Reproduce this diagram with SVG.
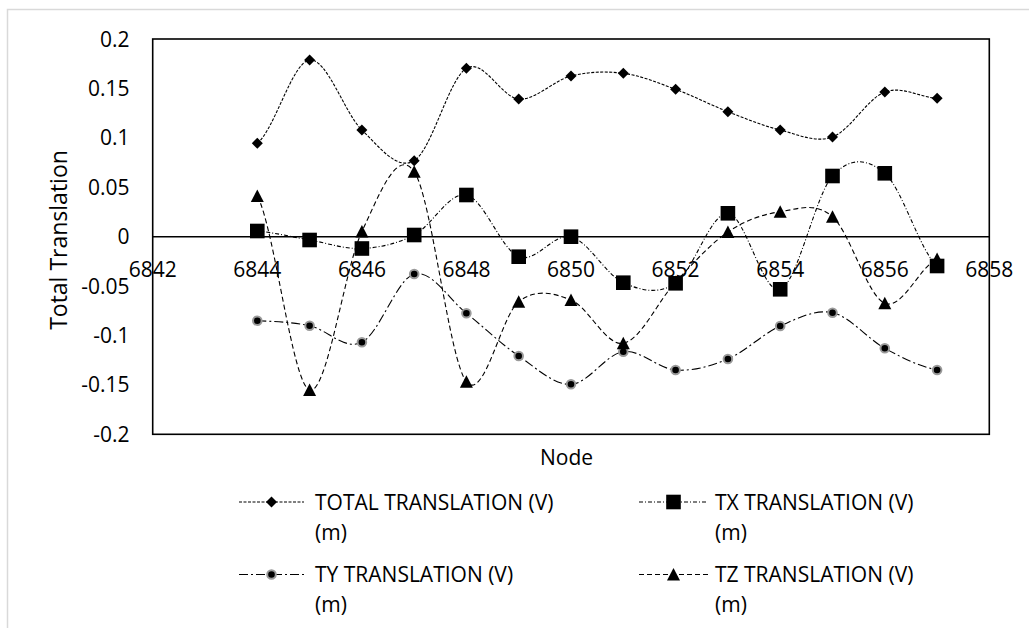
<svg xmlns="http://www.w3.org/2000/svg" width="1029" height="628" viewBox="0 0 1029 628">
<style>
text{font-family:"Open Sans","Liberation Sans",sans-serif;font-size:21px;fill:#000}
.s{fill:none;stroke:#000;stroke-width:1.1}
.tot{stroke-dasharray:3 1.5}
.tx{stroke-dasharray:4 2 1 2}
.ty{stroke-dasharray:9 3 2 3}
.tz{stroke-dasharray:5 3}
.yl{text-anchor:end}
.xl{text-anchor:middle}
</style>
<defs>
<polygon id="mD" points="0,-5.5 5.5,0 0,5.5 -5.5,0" fill="#000"/>
<rect id="mS" x="-7.3" y="-7.3" width="14.6" height="14.6" fill="#000"/>
<polygon id="mT" points="0,-6.5 6.5,6 -6.5,6" fill="#000"/>
<circle id="mC" r="4.3" fill="#000" stroke="#9a9a9a" stroke-width="2"/>
</defs>
<rect width="1029" height="628" fill="#fff"/>
<rect x="7.5" y="9.5" width="1040" height="640" fill="none" stroke="#d9d9d9" stroke-width="1.5"/>
<g id="axes">
<rect x="152.7" y="39" width="836.6" height="395.3" fill="none" stroke="#000" stroke-width="1.6"/>
<line x1="152.7" y1="236.7" x2="989.3" y2="236.7" stroke="#000" stroke-width="1.6"/>
<g id="ylabels" class="yl">
<text class="yl" x="129.5" y="46.5">0.2</text>
<text class="yl" x="129.5" y="95.9">0.15</text>
<text class="yl" x="129.5" y="145.3">0.1</text>
<text class="yl" x="129.5" y="194.8">0.05</text>
<text class="yl" x="129.5" y="244.2">0</text>
<text class="yl" x="129.5" y="293.6">-0.05</text>
<text class="yl" x="129.5" y="343">-0.1</text>
<text class="yl" x="129.5" y="392.4">-0.15</text>
<text class="yl" x="129.5" y="441.8">-0.2</text>
</g>
<g id="xlabels">
<text class="xl" x="152.7" y="277">6842</text>
<text class="xl" x="257.3" y="277">6844</text>
<text class="xl" x="361.9" y="277">6846</text>
<text class="xl" x="466.4" y="277">6848</text>
<text class="xl" x="571" y="277">6850</text>
<text class="xl" x="675.6" y="277">6852</text>
<text class="xl" x="780.2" y="277">6854</text>
<text class="xl" x="884.8" y="277">6856</text>
<text class="xl" x="989.3" y="277">6858</text>
</g>
<text class="xl" style="font-size:23px" transform="translate(66.5,240) rotate(-90)">Total Translation</text>
<text class="xl" x="566.5" y="465">Node</text>
</g>
<g id="connectors">
<path id="line-total" class="s tot" d="M257.3,143.3 C274.7,129.4 292.2,62.2 309.6,60 C327,57.8 344.5,113.2 361.9,130 C379.3,146.8 396.8,171 414.2,160.7 C431.6,150.4 449,78.6 466.4,68.3 C483.8,58 501.3,97.7 518.7,99 C536.1,100.3 553.6,80.3 571,76 C588.4,71.7 605.9,71.1 623.3,73.3 C640.7,75.5 658.2,82.9 675.6,89.3 C693,95.7 710.5,104.9 727.9,111.7 C745.3,118.5 762.8,125.8 780.2,130 C797.6,134.2 815.1,143.3 832.5,137 C849.9,130.7 867.4,98.5 884.8,92 C902.2,85.6 919.7,97.3 937.1,98.3"/>
<path id="line-tx" class="s tx" d="M257.3,231 C274.7,232.5 292.2,237.1 309.6,240 C327,242.9 344.5,249.3 361.9,248.5 C379.3,247.7 396.8,243.9 414.2,235 C431.6,226.1 449,191.4 466.4,195 C483.8,198.6 501.3,249.8 518.7,256.7 C536.1,263.7 553.6,232.4 571,236.7 C588.4,241 605.9,274.9 623.3,282.7 C640.7,290.5 658.2,294.9 675.6,283.3 C693,271.7 710.5,212.3 727.9,213.3 C745.3,214.3 762.8,295.5 780.2,289.3 C797.6,283.1 815.1,195.3 832.5,176 C849.9,156.7 867.4,158.3 884.8,173.3 C902.2,188.3 919.7,250.6 937.1,266"/>
<path id="line-ty" class="s ty" d="M257.3,320.7 C274.7,321.5 292.2,322.1 309.6,325.7 C327,329.3 344.5,350.9 361.9,342.3 C379.3,333.7 396.8,278.8 414.2,274 C431.6,269.2 449,299.6 466.4,313.3 C483.8,327 501.3,344.2 518.7,356 C536.1,367.8 553.6,385 571,384.3 C588.4,383.6 605.9,354.1 623.3,351.7 C640.7,349.3 658.2,368.8 675.6,370 C693,371.2 710.5,366.3 727.9,359 C745.3,351.7 762.8,333.7 780.2,326 C797.6,318.3 815.1,309 832.5,312.7 C849.9,316.4 867.4,338.8 884.8,348.3 C902.2,357.9 919.7,366.4 937.1,370"/>
<path id="line-tz" class="s tz" d="M257.3,196 C274.7,228.3 292.2,384.1 309.6,390 C327,395.9 344.5,267.9 361.9,231.5 C379.3,195.1 396.8,146.7 414.2,171.7 C431.6,196.7 449,360 466.4,381.7 C483.8,403.4 501.3,315.3 518.7,301.7 C536.1,288.1 553.6,293.1 571,300 C588.4,306.9 605.9,346.3 623.3,343.3 C640.7,340.3 658.2,300.6 675.6,282 C693,263.5 710.5,243.7 727.9,232 C745.3,220.3 762.8,214.3 780.2,211.7 C797.6,209.2 815.1,201.4 832.5,216.7 C849.9,232 867.4,296.3 884.8,303.3 C902.2,310.4 919.7,266.4 937.1,259"/>
</g>
<g id="series-total">
<use href="#mD" x="257.3" y="143.3"/><use href="#mD" x="309.6" y="60"/><use href="#mD" x="361.9" y="130"/><use href="#mD" x="414.2" y="160.7"/><use href="#mD" x="466.4" y="68.3"/><use href="#mD" x="518.7" y="99"/><use href="#mD" x="571" y="76"/><use href="#mD" x="623.3" y="73.3"/><use href="#mD" x="675.6" y="89.3"/><use href="#mD" x="727.9" y="111.7"/><use href="#mD" x="780.2" y="130"/><use href="#mD" x="832.5" y="137"/><use href="#mD" x="884.8" y="92"/><use href="#mD" x="937.1" y="98.3"/>
</g>
<g id="series-ty">
<use href="#mC" x="257.3" y="320.7"/><use href="#mC" x="309.6" y="325.7"/><use href="#mC" x="361.9" y="342.3"/><use href="#mC" x="414.2" y="274"/><use href="#mC" x="466.4" y="313.3"/><use href="#mC" x="518.7" y="356"/><use href="#mC" x="571" y="384.3"/><use href="#mC" x="623.3" y="351.7"/><use href="#mC" x="675.6" y="370"/><use href="#mC" x="727.9" y="359"/><use href="#mC" x="780.2" y="326"/><use href="#mC" x="832.5" y="312.7"/><use href="#mC" x="884.8" y="348.3"/><use href="#mC" x="937.1" y="370"/>
</g>
<g id="series-tz">
<use href="#mT" x="257.3" y="196"/><use href="#mT" x="309.6" y="390"/><use href="#mT" x="361.9" y="231.5"/><use href="#mT" x="414.2" y="171.7"/><use href="#mT" x="466.4" y="381.7"/><use href="#mT" x="518.7" y="301.7"/><use href="#mT" x="571" y="300"/><use href="#mT" x="623.3" y="343.3"/><use href="#mT" x="675.6" y="282"/><use href="#mT" x="727.9" y="232"/><use href="#mT" x="780.2" y="211.7"/><use href="#mT" x="832.5" y="216.7"/><use href="#mT" x="884.8" y="303.3"/><use href="#mT" x="937.1" y="259"/>
</g>
<g id="series-tx">
<use href="#mS" x="257.3" y="231"/><use href="#mS" x="309.6" y="240"/><use href="#mS" x="361.9" y="248.5"/><use href="#mS" x="414.2" y="235"/><use href="#mS" x="466.4" y="195"/><use href="#mS" x="518.7" y="256.7"/><use href="#mS" x="571" y="236.7"/><use href="#mS" x="623.3" y="282.7"/><use href="#mS" x="675.6" y="283.3"/><use href="#mS" x="727.9" y="213.3"/><use href="#mS" x="780.2" y="289.3"/><use href="#mS" x="832.5" y="176"/><use href="#mS" x="884.8" y="173.3"/><use href="#mS" x="937.1" y="266"/>
</g>
<g id="legend">
<g id="legend-total">
<line class="s tot" x1="239" y1="502" x2="304" y2="502"/>
<use href="#mD" x="271.5" y="502"/>
<text x="315" y="510">TOTAL TRANSLATION (V)</text>
<text x="315" y="540">(m)</text>
</g>
<g id="legend-tx">
<line class="s tx" x1="639" y1="502" x2="708" y2="502"/>
<use href="#mS" x="673.5" y="502"/>
<text x="715" y="510">TX TRANSLATION (V)</text>
<text x="715" y="540">(m)</text>
</g>
<g id="legend-ty">
<line class="s ty" x1="239" y1="574.5" x2="304" y2="574.5"/>
<use href="#mC" x="271.5" y="574.5"/>
<text x="315" y="582">TY TRANSLATION (V)</text>
<text x="315" y="612">(m)</text>
</g>
<g id="legend-tz">
<line class="s tz" x1="639" y1="574.5" x2="708" y2="574.5"/>
<use href="#mT" x="673.5" y="574.5"/>
<text x="715" y="582">TZ TRANSLATION (V)</text>
<text x="715" y="612">(m)</text>
</g>
</g>
</svg>
